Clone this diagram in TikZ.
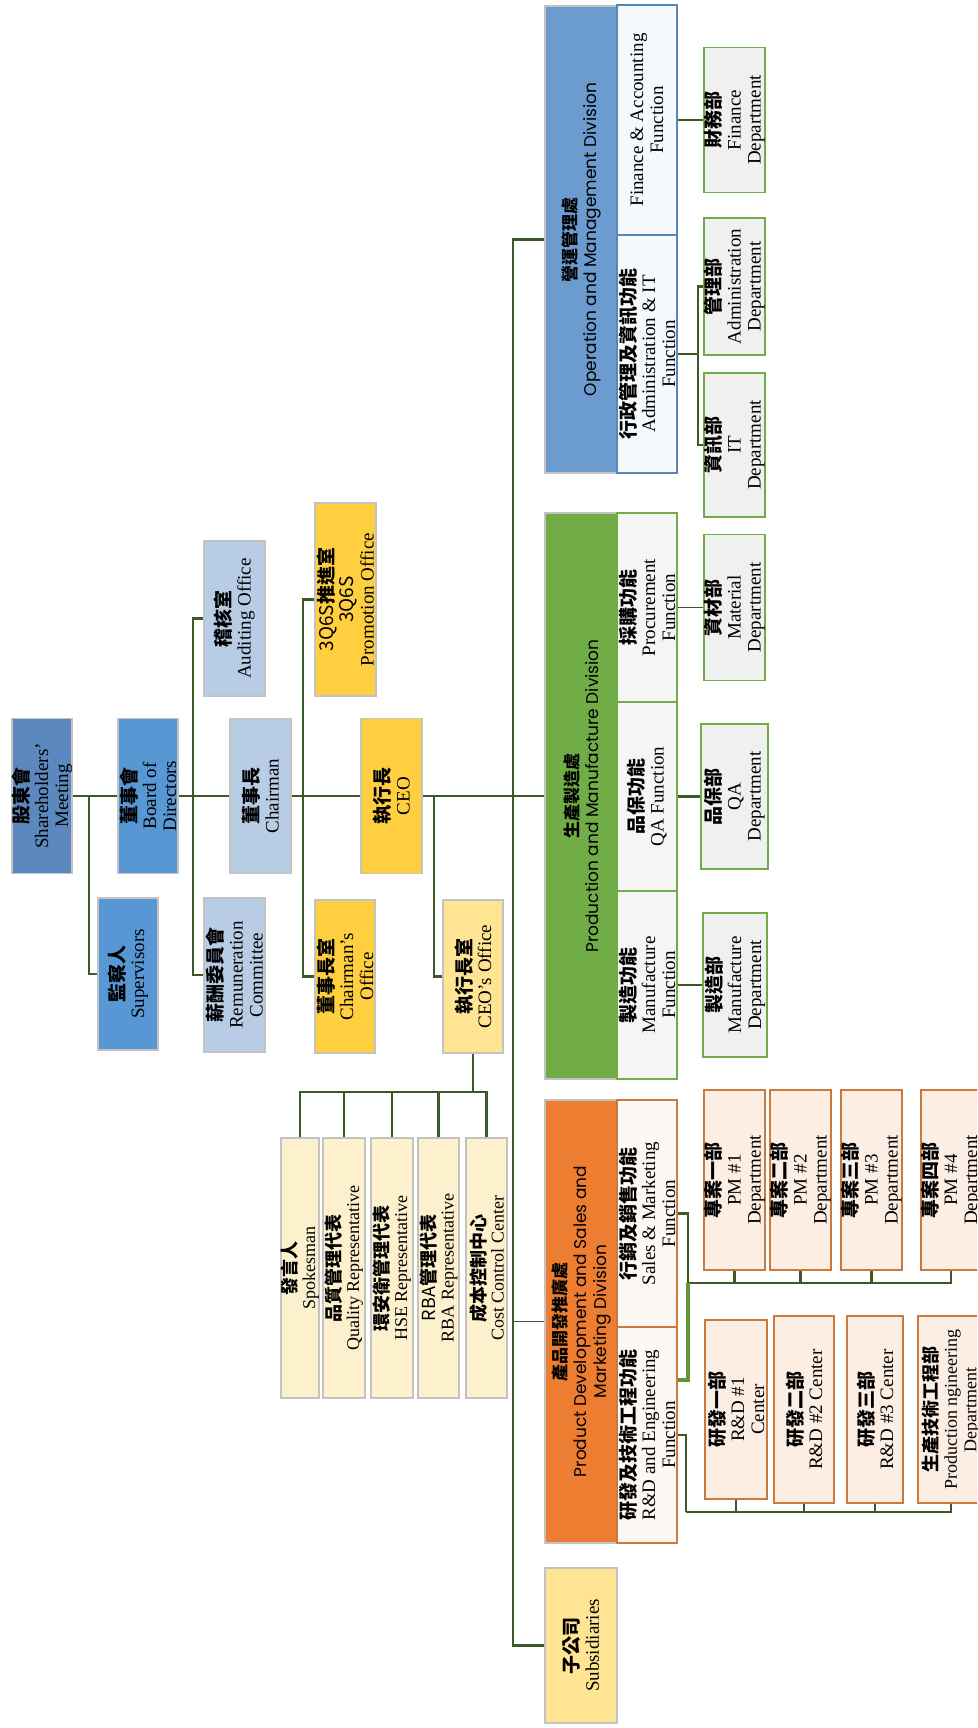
\documentclass[tikz,border=0pt]{standalone}
\usepackage{fontspec}
\setmainfont{Liberation Serif}
\newfontfamily\cjk{Noto Sans CJK TC}
\newfontfamily\divsans{Poppins}
\usetikzlibrary{calc}
\usetikzlibrary{positioning}

\definecolor{linegreen}{HTML}{3B5A27}
\definecolor{rootblue}{HTML}{5B88BE}
\definecolor{boardblue}{HTML}{5797D4}
\definecolor{paleblue}{HTML}{B8CCE6}
\definecolor{gold}{HTML}{FFCF40}
\definecolor{palegold}{HTML}{FFE593}
\definecolor{cream}{HTML}{FDF0CD}
\definecolor{opblue}{HTML}{6C9BCF}
\definecolor{opedge}{HTML}{5A86B5}
\definecolor{prgreen}{HTML}{70AD47}
\definecolor{pdorange}{HTML}{ED7D31}
\definecolor{pdedge}{HTML}{C97A3C}
\definecolor{grayedge}{HTML}{C3C3C3}

\newcommand{\zh}[1]{{\cjk\bfseries #1}}

\tikzset{
  box/.style={draw=grayedge, line width=1.6pt, rotate=90, align=center, inner sep=0pt,
    font=\fontsize{19}{20}\selectfont},
  wh/.style 2 args={minimum width=#2, minimum height=#1},
  rep/.style={box, fill=cream, font=\fontsize{18}{18.5}\selectfont},
  divbox/.style={box, font=\divsans\fontsize{17}{20}\selectfont},
  opfun/.style={box, draw=opedge, fill=opblue!6},
  prfun/.style={box, draw=prgreen, fill=black!4},
  pdfun/.style={box, draw=pdedge, fill=pdorange!5},
  dept/.style={box, draw=prgreen, fill=black!6},
  pddept/.style={box, draw=pdedge, fill=pdorange!13},
  link/.style={draw=linegreen, line width=2.3pt},
  thinlink/.style={draw=linegreen, line width=1.3pt}
}

\begin{document}
\begin{tikzpicture}[x=1pt, y=-1pt]
      \useasboundingbox (0,0) rectangle (977,1728);
      \fill[white] (0,0) rectangle (977,1728);
      \clip (0,0) rectangle (977,1728);

      \node[box, fill=rootblue, wh={60pt}{155pt}] (shm) at (42,796) {\zh{股東會}\\Shareholders'\\Meeting};
      \node[box, fill=boardblue, wh={60pt}{155pt}] (bod) at (148,796) {\zh{董事會}\\Board of\\Directors};
      \node[box, fill=boardblue, wh={60pt}{152pt}] (sup) at (128,974) {\zh{監察人}\\Supervisors};
      \node[box, fill=paleblue, wh={61pt}{155pt}] (chm) at (260.5,796) {\zh{董事長}\\Chairman};
      \node[box, fill=paleblue, wh={61pt}{154pt}] (rem) at (234.5,975) {\zh{薪酬委員會}\\Remuneration\\Committee};
      \node[box, fill=paleblue, wh={61pt}{155pt}] (aud) at (234.5,618.5) {\zh{稽核室}\\Auditing Office};
      \node[box, fill=gold, wh={61pt}{155pt}] (ceo) at (391.5,796) {\zh{執行長}\\CEO};
      \node[box, fill=gold, wh={60pt}{153pt}] (cho) at (345,976.5) {\zh{董事長室}\\Chairman's\\Office};
      \node[box, fill=gold, wh={61pt}{193pt}] (pro) at (345.5,599.5) {{\cjk 3Q6S}\zh{推進室}\\{\cjk 3Q6S}\\Promotion Office};
      \node[box, fill=palegold, wh={60pt}{153pt}] (ceoo) at (473,976.5) {\zh{執行長室}\\CEO's Office};

      \node[rep, wh={36pt}{260pt}] (spk) at (300,1268) {\zh{發言人}\\Spokesman};
      \node[rep, wh={42pt}{260pt}] (qar) at (344,1268) {\zh{品質管理代表}\\Quality Representative};
      \node[rep, wh={42pt}{260pt}] (hse) at (392,1268) {\zh{環安衛管理代表}\\HSE Representative};
      \node[rep, wh={41pt}{260pt}] (rba) at (438.5,1268) {{\cjk RBA}\zh{管理代表}\\RBA Representative};
      \node[rep, wh={41pt}{260pt}] (ccc) at (486.5,1268) {\zh{成本控制中心}\\Cost Control Center};

      \node[box, fill=palegold, wh={72pt}{155pt}] (sub) at (581,1645.5) {\zh{子公司}\\Subsidiaries};

      \node[divbox, fill=opblue, wh={72pt}{467pt}] (opd) at (581,239.5) {\zh{營運管理處}\\Operation and Management Division};
      \node[divbox, fill=prgreen, wh={72pt}{566pt}] (pmd) at (581,796) {\zh{生產製造處}\\Production and Manufacture Division};
      \node[divbox, fill=pdorange, wh={72pt}{443pt}] (pdd) at (581,1321.5) {\zh{產品開發推廣處}\\Product Development and Sales and\\Marketing Division};

      \node[opfun, wh={60pt}{230pt}] (faf) at (647,120) {Finance \& Accounting\\Function};
      \node[opfun, wh={60pt}{238pt}] (aif) at (647,354) {\zh{行政管理及資訊功能}\\Administration \& IT\\Function};
      \node[prfun, wh={60pt}{189pt}] (prf) at (647,607.5) {\zh{採購功能}\\Procurement\\Function};
      \node[prfun, wh={60pt}{189pt}] (qaf) at (647,796.5) {\zh{品保功能}\\QA Function};
      \node[prfun, wh={60pt}{188pt}] (mff) at (647,985) {\zh{製造功能}\\Manufacture\\Function};
      \node[pdfun, wh={60pt}{227pt}] (smf) at (647,1213.5) {\zh{行銷及銷售功能}\\Sales \& Marketing\\Function};
      \node[pdfun, wh={60pt}{216pt}] (rdf) at (647,1435) {\zh{研發及技術工程功能}\\R\&D and Engineering\\Function};

      \node[dept, wh={61pt}{145pt}] (fin) at (734.5,120) {\zh{財務部}\\Finance\\Department};
      \node[dept, wh={61pt}{137pt}] (adm) at (734.5,286.5) {\zh{管理部}\\Administration\\Department};
      \node[dept, wh={61pt}{144pt}] (itd) at (734.5,445) {\zh{資訊部}\\IT\\Department};
      \node[dept, wh={61pt}{146pt}] (mat) at (734.5,607.5) {\zh{資材部}\\Material\\Department};
      \node[dept, wh={67pt}{145pt}] (qad) at (734.5,796.5) {\zh{品保部}\\QA\\Department};
      \node[dept, wh={64pt}{144pt}] (mfd) at (735,985) {\zh{製造部}\\Manufacture\\Department};

      \node[pddept, wh={59pt}{180pt}] (pm1) at (734.5,1180) {\zh{專案一部}\\PM \#1\\Department};
      \node[pddept, wh={57pt}{180pt}] (pm2) at (800.5,1180) {\zh{專案二部}\\PM \#2\\Department};
      \node[pddept, wh={61pt}{180pt}] (pm3) at (871.5,1180) {\zh{專案三部}\\PM \#3\\Department};
      \node[pddept, wh={60pt}{180pt}] (pm4) at (951,1180) {\zh{專案四部}\\PM \#4\\Department};
      \node[pddept, wh={62pt}{179pt}] (rd1) at (736,1409.5) {\zh{研發一部}\\R\&D \#1\\Center};
      \node[pddept, wh={60pt}{187pt}] (rd2) at (804,1409.5) {\zh{研發二部}\\R\&D \#2 Center};
      \node[pddept, wh={56pt}{187pt}] (rd3) at (875,1409.5) {\zh{研發三部}\\R\&D \#3 Center};
      \node[pddept, wh={66pt}{187pt}, font=\fontsize{18}{19.5}\selectfont] (pe) at (951,1409.5) {\zh{生產技術工程部}\\Production ngineering\\Department};

      \draw[link] (shm.south) -- (bod.north);
      \draw[link] (shm.south) ++(16,0) |- (sup.north);
      \draw[link] (bod.south) -- (chm.north);
      \draw[link] (aud.north) -- ++(-10,0) |- (rem.north);
      \draw[link] (chm.south) -- (ceo.north);
      \draw[link] (pro.north) -- ++(-11,0) |- (cho.north);
      \draw[link] (ceo.south) -- (pmd.north);
      \draw[link] (ceo.south) ++(11,0) |- (ceoo.north);

      \coordinate (repbus) at ($(ceoo.west)+(0,38)$);
      \draw[link] (ceoo.west) -- (repbus);
      \foreach \rp in {spk,qar,hse,rba,ccc}
        \draw[link] (\rp.east) |- (repbus);

      \draw[link] (opd.north) -- ++(-31,0) |- (sub.north);
      \draw[thinlink] (pdd.north) -- ++(-31,0);

      \draw[link] (faf.south) -- (fin.north);
      \coordinate (aifj) at ($(aif.south)+(20,0)$);
      \draw[link] (aif.south) -- (aifj);
      \draw[link] (adm.north) -| (aifj);
      \draw[link] (itd.north) -| (aifj);

      \draw[thinlink] (prf.south) -- (mat.north);
      \draw[link] (qaf.south) -- (qad.north);
      \draw[link] (mff.south) -- (mfd.north);

      \coordinate (pmbus) at ($(smf.south)+(10,69.5)$);
      \draw[link] (smf.south) -- ++(10,0) -- (pmbus);
      \foreach \pmn in {pm1,pm2,pm3,pm4}
        \draw[link] (\pmn.west) |- (pmbus);
      \draw[line width=3.5pt, draw=prgreen!85!black] (rdf.south) ++(0,-55) -| (pmbus);

      \coordinate (rdbus) at ($(rdf.south)+(8,77)$);
      \draw[link] (rdf.south) -- ++(8,0) -- (rdbus);
      \foreach \rdn in {rd1,rd2,rd3,pe}
        \draw[link] (\rdn.west) |- (rdbus);
    \end{tikzpicture}
\end{document}
